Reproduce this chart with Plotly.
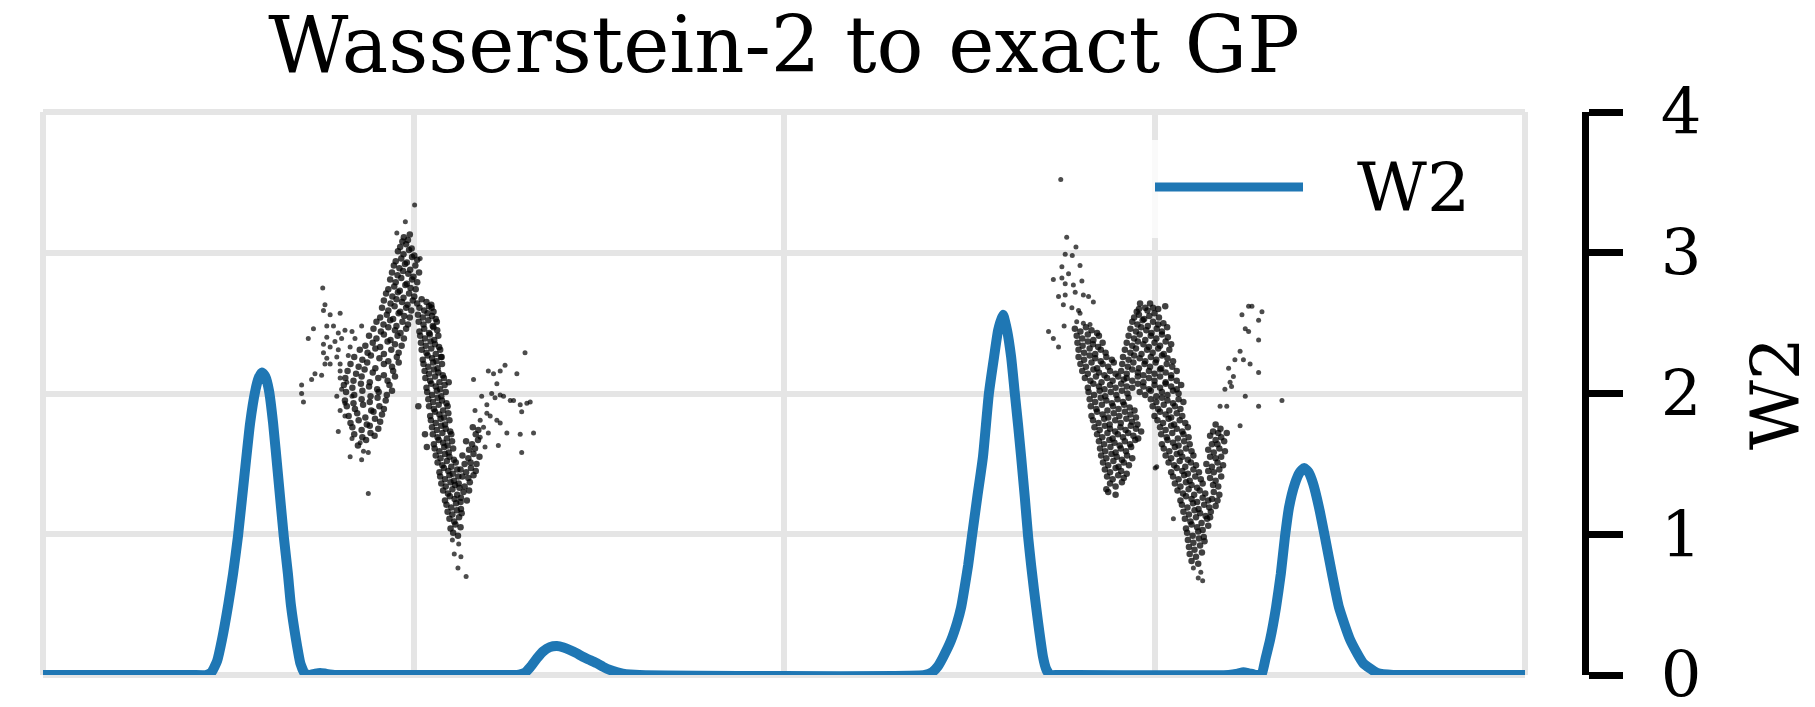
import plotly.graph_objects as go

# ---------------- W2 curve (right axis) ----------------
w2_x = [-2.00, -1.60, -1.56, -1.545, -1.53, -1.517, -1.50, -1.487, -1.474, -1.457, -1.441,
        -1.427, -1.418, -1.409, -1.40, -1.39, -1.379, -1.366, -1.35, -1.339, -1.331, -1.317,
        -1.305, -1.293, -1.28, -1.265, -1.252, -1.235, -1.21, -1.18,
        -0.73, -0.715, -0.70, -0.685, -0.667, -0.65, -0.632, -0.613, -0.595, -0.578, -0.56,
        -0.543, -0.524, -0.505, -0.488, -0.47, -0.452, -0.435, -0.415, -0.39,
        0.38, 0.40, 0.415, 0.43, 0.45, 0.467, 0.478, 0.486, 0.497, 0.507, 0.522, 0.537, 0.553,
        0.567, 0.578, 0.591, 0.602, 0.613, 0.623, 0.632, 0.640, 0.650, 0.659, 0.667, 0.675,
        0.686, 0.699, 0.708, 0.718, 0.74,
        1.20, 1.225, 1.24, 1.255, 1.27, 1.285, 1.29, 1.30, 1.312, 1.328, 1.341, 1.352, 1.363,
        1.379, 1.392, 1.404, 1.416, 1.428, 1.444, 1.460, 1.479, 1.498, 1.528, 1.563, 1.601,
        1.644, 1.70, 2.00]
w2_y = [0.0, 0.0, 0.0, 0.02, 0.10, 0.25, 0.50, 0.72, 0.98, 1.40, 1.79,
        2.02, 2.11, 2.15, 2.12, 2.02, 1.79, 1.43, 0.98, 0.72, 0.50, 0.25,
        0.08, 0.01, 0.0, 0.01, 0.015, 0.008, 0.0, 0.0,
        0.0, 0.003, 0.015, 0.055, 0.118, 0.168, 0.198, 0.206, 0.196, 0.178, 0.155,
        0.13, 0.106, 0.083, 0.058, 0.036, 0.020, 0.010, 0.004, 0.0,
        0.0, 0.02, 0.06, 0.13, 0.24, 0.37, 0.48, 0.60, 0.78, 0.98, 1.27, 1.55, 2.0,
        2.26, 2.45, 2.56, 2.45, 2.26, 2.0, 1.77, 1.55, 1.26, 0.98, 0.78, 0.60,
        0.37, 0.13, 0.04, 0.0, 0.0,
        0.0, 0.01, 0.02, 0.012, 0.003, 0.0, 0.01, 0.12, 0.25, 0.48, 0.72, 0.98, 1.19,
        1.36, 1.44, 1.47, 1.44, 1.36, 1.19, 0.98, 0.72, 0.48, 0.25, 0.085, 0.015,
        0.0, 0.0, 0.0]

# ---------------- scattered observations (left hidden axis) ----------------
left_sparse = [
    (-1.245, 2.75), (-1.239, 2.63), (-1.243, 2.59), (-1.225, 2.56), (-1.198, 2.57), (-1.270, 2.46),
    (-1.284, 2.39), (-1.234, 2.48), (-1.216, 2.48), (-1.203, 2.43), (-1.185, 2.45), (-1.166, 2.44),
    (-1.234, 2.40), (-1.212, 2.37), (-1.194, 2.39), (-1.243, 2.35), (-1.225, 2.33), (-1.203, 2.31),
    (-1.171, 2.33), (-1.158, 2.39), (-1.140, 2.48), (-1.243, 2.29), (-1.234, 2.25), (-1.207, 2.26),
    (-1.176, 2.27), (-1.239, 2.21), (-1.225, 2.21), (-1.198, 2.21), (-1.248, 2.13), (-1.266, 2.14),
    (-1.275, 2.10), (-1.302, 2.06), (-1.302, 2.00), (-1.297, 1.94), (-1.198, 2.16), (-1.198, 2.11),
    (-1.180, 2.08), (-1.194, 2.03), (-1.207, 1.98), (-1.185, 1.93), (-1.166, 1.98), (-1.198, 1.88),
    (-1.185, 1.84), (-1.203, 1.73), (-1.166, 1.68), (-1.144, 1.65), (-1.171, 1.55), (-1.135, 1.59),
    (-1.122, 1.58), (-1.140, 1.53), (-1.122, 1.29),
    (-0.997, 3.34), (-1.022, 3.22), (-1.045, 3.14), (-0.982, 2.96),
    (-0.895, 0.96), (-0.878, 0.93), (-0.890, 0.86), (-0.872, 0.84), (-0.880, 0.76), (-0.858, 0.70),
    (-0.838, 2.10), (-0.816, 1.98), (-0.798, 2.16), (-0.784, 2.14), (-0.766, 2.16), (-0.775, 2.07),
    (-0.753, 2.20), (-0.721, 2.14), (-0.699, 2.29), (-0.834, 1.88), (-0.802, 1.92), (-0.789, 2.00),
    (-0.780, 1.97), (-0.766, 1.99), (-0.757, 1.98), (-0.739, 1.95), (-0.730, 1.95), (-0.712, 1.92),
    (-0.694, 1.93), (-0.685, 1.94), (-0.708, 1.87), (-0.802, 1.86), (-0.793, 1.84), (-0.775, 1.81),
    (-0.766, 1.79), (-0.748, 1.72), (-0.712, 1.71), (-0.676, 1.72), (-0.771, 1.63), (-0.708, 1.58),
    (-0.820, 1.81), (-0.811, 1.76), (-0.798, 1.72), (-0.820, 1.69), (-0.807, 1.62),
]

left_core = [
    # rising band and lower-left lobe
    (-1.150, 1.63), (-1.128, 1.67), (-1.105, 1.70),
    (-1.165, 1.76), (-1.140, 1.74), (-1.118, 1.77), (-1.095, 1.75),
    (-1.175, 1.84), (-1.152, 1.86), (-1.130, 1.83), (-1.108, 1.87), (-1.085, 1.85),
    (-1.185, 1.95), (-1.162, 1.93), (-1.140, 1.96), (-1.118, 1.94), (-1.097, 1.97), (-1.075, 1.95),
    (-1.188, 2.06), (-1.165, 2.04), (-1.142, 2.07), (-1.120, 2.05), (-1.098, 2.03), (-1.065, 2.06),
    (-1.178, 2.16), (-1.155, 2.14), (-1.132, 2.17), (-1.110, 2.15), (-1.080, 2.13), (-1.055, 2.16),
    (-1.160, 2.26), (-1.138, 2.24), (-1.115, 2.27), (-1.092, 2.25), (-1.068, 2.23), (-1.045, 2.26),
    (-1.130, 2.34), (-1.110, 2.36), (-1.090, 2.33), (-1.070, 2.37), (-1.050, 2.35), (-1.032, 2.34),
    (-1.108, 2.46), (-1.088, 2.44), (-1.068, 2.47), (-1.050, 2.45), (-1.035, 2.43), (-1.020, 2.46),
    (-1.090, 2.54), (-1.072, 2.56), (-1.055, 2.53), (-1.040, 2.57), (-1.025, 2.55), (-1.010, 2.54),
    (-1.080, 2.66), (-1.062, 2.64), (-1.046, 2.67), (-1.031, 2.65), (-1.016, 2.63), (-1.002, 2.66),
    (-1.068, 2.74), (-1.052, 2.76), (-1.037, 2.73), (-1.022, 2.77), (-1.008, 2.75), (-0.994, 2.74),
    (-1.058, 2.86), (-1.043, 2.84), (-1.028, 2.87), (-1.014, 2.85), (-1.000, 2.83), (-0.985, 2.86),
    (-1.048, 2.94), (-1.033, 2.96), (-1.018, 2.93), (-1.004, 2.97), (-0.990, 2.95),
    (-1.036, 3.04), (-1.020, 3.06), (-1.005, 3.03), (-1.026, 3.11), (-1.010, 3.13),
    (-1.160, 1.71), (-1.138, 1.69), (-1.116, 1.72),
    (-1.170, 1.79), (-1.148, 1.81), (-1.126, 1.78), (-1.104, 1.82), (-1.090, 1.80),
    (-1.180, 1.91), (-1.158, 1.89), (-1.136, 1.92), (-1.114, 1.88), (-1.092, 1.91), (-1.080, 1.89),
    (-1.182, 2.01), (-1.160, 1.99), (-1.138, 2.02), (-1.116, 1.98), (-1.094, 2.01), (-1.072, 1.99),
    (-1.058, 2.02),
    (-1.184, 2.11), (-1.162, 2.09), (-1.140, 2.12), (-1.118, 2.08), (-1.095, 2.11), (-1.070, 2.09),
    (-1.050, 2.12),
    (-1.170, 2.21), (-1.148, 2.19), (-1.125, 2.22), (-1.103, 2.18), (-1.080, 2.21), (-1.058, 2.19),
    (-1.040, 2.22),
    (-1.145, 2.31), (-1.124, 2.29), (-1.103, 2.32), (-1.080, 2.28), (-1.060, 2.31), (-1.040, 2.29),
    (-1.120, 2.41), (-1.100, 2.39), (-1.080, 2.42), (-1.062, 2.38), (-1.043, 2.41), (-1.026, 2.39),
    (-1.100, 2.51), (-1.081, 2.49), (-1.063, 2.52), (-1.046, 2.48), (-1.030, 2.51), (-1.015, 2.49),
    (-1.085, 2.61), (-1.068, 2.59), (-1.051, 2.62), (-1.036, 2.58), (-1.020, 2.61), (-1.006, 2.59),
    (-1.074, 2.71), (-1.057, 2.69), (-1.042, 2.72), (-1.027, 2.68), (-1.012, 2.71), (-0.998, 2.69),
    (-1.063, 2.81), (-1.048, 2.79), (-1.033, 2.82), (-1.018, 2.78), (-1.004, 2.81), (-0.990, 2.79),
    (-1.053, 2.91), (-1.038, 2.89), (-1.023, 2.92), (-1.009, 2.88), (-0.995, 2.91),
    (-1.042, 3.01), (-1.027, 2.99), (-1.012, 3.02), (-0.998, 2.98), (-1.030, 3.08), (-1.015, 3.09),
    # descending band
    (-0.990, 2.64), (-0.978, 2.67), (-0.965, 2.65), (-0.952, 2.63),
    (-0.988, 2.56), (-0.975, 2.54), (-0.962, 2.57), (-0.950, 2.55), (-0.940, 2.53),
    (-0.984, 2.44), (-0.971, 2.46), (-0.958, 2.43), (-0.946, 2.47), (-0.936, 2.45),
    (-0.980, 2.36), (-0.967, 2.34), (-0.954, 2.37), (-0.942, 2.35), (-0.931, 2.33),
    (-0.975, 2.24), (-0.962, 2.27), (-0.950, 2.25), (-0.938, 2.23), (-0.926, 2.26),
    (-0.970, 2.16), (-0.958, 2.14), (-0.945, 2.17), (-0.933, 2.15), (-0.921, 2.13),
    (-0.965, 2.04), (-0.952, 2.07), (-0.940, 2.05), (-0.928, 2.03), (-0.916, 2.06),
    (-0.960, 1.96), (-0.947, 1.94), (-0.935, 1.97), (-0.923, 1.95), (-0.911, 1.93),
    (-0.955, 1.84), (-0.942, 1.87), (-0.930, 1.85), (-0.918, 1.83), (-0.906, 1.86),
    (-0.950, 1.76), (-0.937, 1.74), (-0.925, 1.77), (-0.913, 1.75), (-0.901, 1.73),
    (-0.945, 1.64), (-0.932, 1.67), (-0.920, 1.65), (-0.908, 1.63), (-0.896, 1.66),
    (-0.940, 1.56), (-0.927, 1.54), (-0.915, 1.57), (-0.903, 1.55), (-0.891, 1.53),
    (-0.930, 1.44), (-0.918, 1.47), (-0.906, 1.45), (-0.894, 1.43), (-0.882, 1.46),
    (-0.925, 1.36), (-0.913, 1.34), (-0.900, 1.37), (-0.888, 1.35), (-0.876, 1.33),
    (-0.915, 1.24), (-0.902, 1.27), (-0.889, 1.25), (-0.873, 1.23),
    (-0.908, 1.16), (-0.895, 1.14), (-0.883, 1.17), (-0.870, 1.15),
    (-0.900, 1.04), (-0.887, 1.07), (-0.873, 1.05),
    (-0.987, 1.91), (-0.969, 1.71), (-0.964, 1.62), (-0.905, 2.08), (-0.924, 2.26), (-0.951, 2.61),
    (-0.984, 2.61), (-0.971, 2.59), (-0.958, 2.62), (-0.946, 2.58),
    (-0.986, 2.51), (-0.973, 2.49), (-0.960, 2.52), (-0.948, 2.48), (-0.937, 2.51),
    (-0.982, 2.41), (-0.969, 2.39), (-0.956, 2.42), (-0.944, 2.38), (-0.933, 2.41),
    (-0.978, 2.31), (-0.965, 2.29), (-0.952, 2.32), (-0.940, 2.28), (-0.928, 2.31),
    (-0.973, 2.21), (-0.960, 2.19), (-0.947, 2.22), (-0.935, 2.18), (-0.923, 2.21),
    (-0.968, 2.11), (-0.955, 2.09), (-0.942, 2.12), (-0.930, 2.08), (-0.918, 2.11),
    (-0.963, 2.01), (-0.950, 1.99), (-0.937, 2.02), (-0.925, 1.98), (-0.913, 2.01),
    (-0.958, 1.91), (-0.945, 1.89), (-0.932, 1.92), (-0.920, 1.88), (-0.908, 1.91),
    (-0.953, 1.81), (-0.940, 1.79), (-0.927, 1.82), (-0.915, 1.78), (-0.903, 1.81),
    (-0.948, 1.71), (-0.935, 1.69), (-0.922, 1.72), (-0.910, 1.68), (-0.898, 1.71),
    (-0.943, 1.61), (-0.930, 1.59), (-0.917, 1.62), (-0.905, 1.58), (-0.893, 1.61),
    (-0.935, 1.51), (-0.922, 1.49), (-0.910, 1.52), (-0.898, 1.48), (-0.886, 1.51),
    (-0.928, 1.41), (-0.915, 1.39), (-0.903, 1.42), (-0.891, 1.38), (-0.879, 1.41),
    (-0.920, 1.31), (-0.907, 1.29), (-0.895, 1.32), (-0.882, 1.28),
    (-0.911, 1.21), (-0.898, 1.19), (-0.885, 1.22), (-0.872, 1.18),
    (-0.903, 1.11), (-0.890, 1.09), (-0.877, 1.12), (-0.893, 1.01), (-0.880, 0.99),
    # second hump
    (-0.840, 1.76), (-0.825, 1.74), (-0.858, 1.66), (-0.842, 1.64), (-0.826, 1.67), (-0.868, 1.56),
    (-0.852, 1.54), (-0.838, 1.57), (-0.822, 1.55), (-0.873, 1.46), (-0.858, 1.44), (-0.845, 1.47),
    (-0.832, 1.45), (-0.878, 1.36), (-0.862, 1.34), (-0.848, 1.37), (-0.872, 1.26), (-0.856, 1.24),
    (-0.832, 1.71), (-0.850, 1.60), (-0.834, 1.61), (-0.862, 1.50), (-0.846, 1.51), (-0.830, 1.50),
    (-0.868, 1.41), (-0.852, 1.40), (-0.838, 1.42), (-0.865, 1.30), (-0.850, 1.31),
]

right_sparse = [
    (0.747, 3.52), (0.763, 3.11), (0.788, 3.04), (0.759, 2.99), (0.778, 2.98), (0.750, 2.90),
    (0.799, 2.91), (0.768, 2.85), (0.727, 2.81), (0.750, 2.82), (0.759, 2.78), (0.781, 2.77),
    (0.804, 2.80), (0.741, 2.69), (0.759, 2.70), (0.786, 2.72), (0.808, 2.70), (0.822, 2.69),
    (0.835, 2.65), (0.754, 2.63), (0.777, 2.61), (0.795, 2.59), (0.799, 2.57), (0.714, 2.44),
    (0.727, 2.39), (0.741, 2.33), (0.756, 2.48), (0.790, 2.51), (0.808, 2.50), (0.826, 2.49),
    (1.105, 0.76), (1.125, 0.73), (1.118, 0.69), (1.130, 0.67),
    (1.051, 1.11), (1.002, 1.47), (1.006, 1.48),
    (1.177, 1.91), (1.195, 1.91), (1.190, 2.03), (1.204, 2.08), (1.208, 2.05), (1.213, 2.12),
    (1.200, 2.18), (1.217, 2.24), (1.231, 2.30), (1.240, 2.24), (1.258, 2.21), (1.245, 2.46),
    (1.254, 2.44), (1.236, 2.56), (1.254, 2.62), (1.263, 2.62), (1.290, 2.58), (1.281, 2.52),
    (1.281, 2.38), (1.281, 2.15), (1.245, 1.98), (1.281, 1.91), (1.344, 1.95), (1.231, 1.77),
]

right_core = [
    # descending left arm
    (0.785, 2.46), (0.800, 2.44), (0.815, 2.47), (0.830, 2.45), (0.845, 2.43),
    (0.792, 2.36), (0.806, 2.34), (0.820, 2.37), (0.834, 2.35), (0.848, 2.33), (0.860, 2.36),
    (0.795, 2.26), (0.810, 2.24), (0.825, 2.27), (0.840, 2.25), (0.855, 2.23), (0.870, 2.26), (0.885, 2.24),
    (0.805, 2.16), (0.820, 2.14), (0.835, 2.17), (0.850, 2.15), (0.865, 2.13), (0.880, 2.16), (0.895, 2.14),
    (0.820, 2.04), (0.835, 2.07), (0.850, 2.05), (0.865, 2.03), (0.880, 2.06), (0.895, 2.04), (0.910, 2.07),
    (0.925, 2.05),
    (0.825, 1.96), (0.840, 1.94), (0.855, 1.97), (0.870, 1.95), (0.885, 1.93), (0.900, 1.96), (0.915, 1.94),
    (0.930, 1.97),
    (0.830, 1.84), (0.845, 1.87), (0.860, 1.85), (0.875, 1.83), (0.890, 1.86), (0.905, 1.84), (0.920, 1.87),
    (0.935, 1.85), (0.950, 1.83),
    (0.838, 1.76), (0.852, 1.74), (0.866, 1.77), (0.880, 1.75), (0.894, 1.73), (0.908, 1.76), (0.922, 1.74),
    (0.936, 1.77), (0.950, 1.75), (0.964, 1.73),
    (0.850, 1.66), (0.864, 1.64), (0.878, 1.67), (0.892, 1.65), (0.906, 1.63), (0.920, 1.66), (0.934, 1.64),
    (0.948, 1.67),
    (0.856, 1.56), (0.870, 1.54), (0.884, 1.57), (0.898, 1.55), (0.912, 1.53), (0.926, 1.56), (0.940, 1.54),
    (0.866, 1.46), (0.880, 1.44), (0.895, 1.47), (0.910, 1.45), (0.925, 1.43),
    (0.880, 1.36), (0.895, 1.34), (0.912, 1.37), (0.870, 1.32), (0.895, 1.28), (0.875, 1.30),
    (0.790, 2.41), (0.805, 2.39), (0.820, 2.42), (0.835, 2.38), (0.850, 2.41),
    (0.795, 2.31), (0.810, 2.29), (0.825, 2.32), (0.840, 2.28), (0.855, 2.31), (0.868, 2.29),
    (0.800, 2.21), (0.815, 2.19), (0.830, 2.22), (0.845, 2.18), (0.860, 2.21), (0.875, 2.19), (0.890, 2.22),
    (0.812, 2.11), (0.827, 2.09), (0.842, 2.12), (0.857, 2.08), (0.872, 2.11), (0.887, 2.09), (0.902, 2.12),
    (0.917, 2.10),
    (0.822, 2.01), (0.837, 1.99), (0.852, 2.02), (0.867, 1.98), (0.882, 2.01), (0.897, 1.99), (0.912, 2.02),
    (0.927, 2.00),
    (0.828, 1.91), (0.843, 1.89), (0.858, 1.92), (0.873, 1.88), (0.888, 1.91), (0.903, 1.89), (0.918, 1.92),
    (0.933, 1.90), (0.946, 1.88),
    (0.834, 1.81), (0.849, 1.79), (0.864, 1.82), (0.879, 1.78), (0.894, 1.81), (0.909, 1.79), (0.924, 1.82),
    (0.939, 1.80), (0.954, 1.78),
    (0.845, 1.71), (0.859, 1.69), (0.873, 1.72), (0.887, 1.68), (0.901, 1.71), (0.915, 1.69), (0.929, 1.72),
    (0.943, 1.70), (0.956, 1.68),
    (0.853, 1.61), (0.867, 1.59), (0.881, 1.62), (0.895, 1.58), (0.909, 1.61), (0.923, 1.59), (0.937, 1.62),
    (0.861, 1.51), (0.875, 1.49), (0.889, 1.52), (0.903, 1.48), (0.917, 1.51), (0.931, 1.49),
    (0.872, 1.41), (0.887, 1.39), (0.902, 1.42), (0.917, 1.40),
    # central peak
    (0.961, 2.64), (0.975, 2.61), (0.988, 2.64), (1.029, 2.62), (0.952, 2.58),
    (0.945, 2.54), (0.958, 2.56), (0.972, 2.53), (0.986, 2.55), (1.000, 2.57), (1.012, 2.54),
    (0.935, 2.46), (0.950, 2.44), (0.964, 2.47), (0.978, 2.45), (0.992, 2.43), (1.006, 2.46), (1.020, 2.44),
    (1.034, 2.47),
    (0.925, 2.36), (0.940, 2.34), (0.955, 2.37), (0.970, 2.35), (0.985, 2.33), (1.000, 2.36), (1.015, 2.34),
    (1.030, 2.37), (1.045, 2.35),
    (0.915, 2.26), (0.930, 2.24), (0.945, 2.27), (0.960, 2.25), (0.975, 2.23), (0.990, 2.26), (1.005, 2.24),
    (1.020, 2.27), (1.035, 2.25), (1.050, 2.23),
    (0.910, 2.16), (0.925, 2.14), (0.940, 2.17), (0.955, 2.15), (0.970, 2.13), (0.985, 2.16), (1.000, 2.14),
    (1.015, 2.17), (1.030, 2.15), (1.045, 2.13), (1.060, 2.16),
    (0.940, 2.04), (0.955, 2.07), (0.970, 2.05), (0.985, 2.03), (1.000, 2.06), (1.015, 2.04), (1.030, 2.07),
    (1.045, 2.05), (1.060, 2.03), (1.072, 2.06),
    (0.958, 2.60), (0.981, 2.59), (0.996, 2.61), (1.010, 2.60),
    (0.940, 2.51), (0.954, 2.49), (0.968, 2.52), (0.982, 2.48), (0.996, 2.51), (1.010, 2.49), (1.024, 2.50),
    (0.930, 2.41), (0.945, 2.39), (0.960, 2.42), (0.975, 2.38), (0.990, 2.41), (1.005, 2.39), (1.020, 2.42),
    (1.036, 2.40),
    (0.920, 2.31), (0.935, 2.29), (0.950, 2.32), (0.965, 2.28), (0.980, 2.31), (0.995, 2.29), (1.010, 2.32),
    (1.025, 2.28), (1.040, 2.31),
    (0.913, 2.21), (0.928, 2.19), (0.943, 2.22), (0.958, 2.18), (0.973, 2.21), (0.988, 2.19), (1.003, 2.22),
    (1.018, 2.18), (1.033, 2.21), (1.048, 2.19),
    (0.925, 2.11), (0.940, 2.09), (0.955, 2.12), (0.970, 2.08), (0.985, 2.11), (1.000, 2.09), (1.015, 2.12),
    (1.030, 2.08), (1.045, 2.11), (1.060, 2.09),
    (0.960, 2.01), (0.975, 1.99), (0.990, 2.02), (1.005, 1.98), (1.020, 2.01), (1.035, 1.99), (1.050, 2.02),
    (1.065, 2.00),
    # descending right band
    (0.990, 1.96), (1.005, 1.94), (1.020, 1.97), (1.035, 1.95), (1.050, 1.93), (1.065, 1.96), (1.078, 1.94),
    (1.000, 1.84), (1.015, 1.87), (1.030, 1.85), (1.045, 1.83), (1.060, 1.86), (1.075, 1.84),
    (1.015, 1.76), (1.030, 1.74), (1.045, 1.77), (1.060, 1.75), (1.075, 1.73), (1.090, 1.76),
    (1.020, 1.64), (1.035, 1.67), (1.050, 1.65), (1.065, 1.63), (1.080, 1.66), (1.095, 1.64),
    (1.030, 1.56), (1.045, 1.54), (1.060, 1.57), (1.075, 1.55), (1.090, 1.53), (1.105, 1.56),
    (1.045, 1.44), (1.060, 1.47), (1.075, 1.45), (1.090, 1.43), (1.105, 1.46), (1.120, 1.44),
    (1.055, 1.36), (1.070, 1.34), (1.085, 1.37), (1.100, 1.35), (1.115, 1.33), (1.130, 1.36),
    (1.070, 1.24), (1.085, 1.27), (1.100, 1.25), (1.115, 1.23), (1.130, 1.26), (1.145, 1.24),
    (1.078, 1.16), (1.093, 1.14), (1.108, 1.17), (1.123, 1.15), (1.138, 1.13), (1.152, 1.16),
    (1.085, 1.04), (1.100, 1.07), (1.115, 1.05), (1.130, 1.03), (1.145, 1.06),
    (1.090, 0.96), (1.105, 0.94), (1.120, 0.97), (1.135, 0.95),
    (1.095, 0.86), (1.112, 0.84), (1.128, 0.87),
    (0.995, 1.91), (1.010, 1.89), (1.025, 1.92), (1.040, 1.88), (1.055, 1.91), (1.070, 1.89),
    (1.008, 1.81), (1.023, 1.79), (1.038, 1.82), (1.053, 1.78), (1.068, 1.81), (1.083, 1.79),
    (1.018, 1.71), (1.033, 1.69), (1.048, 1.72), (1.063, 1.68), (1.078, 1.71), (1.092, 1.69),
    (1.025, 1.61), (1.040, 1.59), (1.055, 1.62), (1.070, 1.58), (1.085, 1.61), (1.100, 1.59),
    (1.038, 1.51), (1.053, 1.49), (1.068, 1.52), (1.083, 1.48), (1.098, 1.51), (1.112, 1.49),
    (1.050, 1.41), (1.065, 1.39), (1.080, 1.42), (1.095, 1.38), (1.110, 1.41), (1.125, 1.39),
    (1.062, 1.31), (1.077, 1.29), (1.092, 1.32), (1.107, 1.28), (1.122, 1.31), (1.137, 1.29),
    (1.074, 1.21), (1.089, 1.19), (1.104, 1.22), (1.119, 1.18), (1.134, 1.21), (1.148, 1.19),
    (1.082, 1.11), (1.097, 1.09), (1.112, 1.12), (1.127, 1.08), (1.142, 1.11),
    (1.088, 1.01), (1.103, 0.99), (1.118, 1.02), (1.133, 0.98),
    (1.093, 0.91), (1.108, 0.89), (1.123, 0.92), (1.100, 0.81), (1.118, 0.79),
    # second hump
    (1.165, 1.78), (1.178, 1.75), (1.150, 1.70), (1.165, 1.67), (1.180, 1.69), (1.195, 1.72),
    (1.145, 1.60), (1.160, 1.58), (1.175, 1.61), (1.190, 1.59), (1.140, 1.50), (1.155, 1.48),
    (1.170, 1.51), (1.185, 1.49), (1.150, 1.40), (1.165, 1.38), (1.180, 1.41), (1.160, 1.30),
    (1.175, 1.28), (1.165, 1.20), (1.150, 1.12),
    (1.158, 1.73), (1.172, 1.72), (1.188, 1.66), (1.155, 1.64), (1.170, 1.64), (1.150, 1.55),
    (1.165, 1.54), (1.180, 1.55), (1.145, 1.45), (1.160, 1.44), (1.175, 1.46), (1.158, 1.35),
    (1.172, 1.34), (1.155, 1.25), (1.170, 1.24),
]

# tick values
x_grid = [-2, -1, 0, 1, 2]
y_grid = [0, 1, 2, 3, 4]
w2_ticks = [0, 1, 2, 3, 4]

SERIF = "DejaVu Serif"

fig = go.Figure()
for cl, sz, op in ((left_sparse, 5, 0.7), (right_sparse, 5, 0.7),
                   (left_core, 6.5, 0.75), (right_core, 6.5, 0.75)):
    fig.add_trace(go.Scatter(
        x=[p[0] for p in cl], y=[p[1] for p in cl], mode="markers",
        marker=dict(size=sz, color="black", opacity=op, line=dict(width=0)),
        showlegend=False, hoverinfo="skip"))

fig.add_trace(go.Scatter(
    x=w2_x, y=w2_y, yaxis="y2", mode="lines", name="W2",
    line=dict(color="#1f77b4", width=10, shape="spline", smoothing=0.5),
    showlegend=False))

L, R, T, B = 43, 200, 112, 32
W, H = 1815, 707
pw = W - L - R
ph = H - T - B
def px(xp):
    return (xp - L) / pw
def py(yp):
    return (H - B - yp) / ph

GRIDC = "#e5e5e5"
grid = dict(showgrid=True, gridcolor=GRIDC, gridwidth=6, zeroline=False,
            showline=False, ticks="", showticklabels=False, automargin=False)

x_end = px(1525)
fig.update_layout(
    width=W, height=H,
    margin=dict(l=L, r=R, t=T, b=B, pad=0, autoexpand=False),
    plot_bgcolor="white", paper_bgcolor="white",
    showlegend=False,
    title=dict(text="Wasserstein-2 to exact GP", font=dict(family=SERIF, size=78, color="black"),
               xref="paper", x=px(784), xanchor="center",
               yref="container", y=1 - 45 / H, yanchor="middle"),
    xaxis=dict(domain=[0, x_end], range=[-2, 2], tickvals=x_grid, **grid),
    yaxis=dict(range=[0, 4], tickvals=y_grid, **grid),
    yaxis2=dict(overlaying="y", anchor="free", position=px(1585), side="right",
                range=[0, 4], tickvals=w2_ticks, showgrid=False, zeroline=False,
                showline=True, linecolor="black", linewidth=7, automargin=False,
                ticks="outside", ticklen=34, tickwidth=7, tickcolor="black",
                ticklabelstandoff=25, ticklabeloverflow="allow",
                tickfont=dict(family=SERIF, size=64, color="black"),
                title=dict(text="W2", font=dict(family=SERIF, size=68, color="black"), standoff=62)),
)

# grid lines on the frame edges (plotly skips gridlines at the range ends)
for (x0, x1, y0, y1) in ((0, 0, 0, 1), (x_end, x_end, 0, 1), (0, x_end, 1, 1), (0, x_end, 0, 0)):
    fig.add_shape(type="line", xref="paper", yref="paper", x0=x0, x1=x1, y0=y0, y1=y1,
                  line=dict(color=GRIDC, width=6), layer="below")

# legend drawn as a translucent box with a line sample and label
fig.add_shape(type="rect", xref="paper", yref="paper",
              x0=px(1140), x1=px(1490), y0=py(238), y1=py(140),
              fillcolor="rgba(255,255,255,0.8)", line=dict(width=0), layer="above")
fig.add_shape(type="line", xref="paper", yref="paper",
              x0=px(1155), x1=px(1303), y0=py(187), y1=py(187),
              line=dict(color="#1f77b4", width=9), layer="above")
fig.add_annotation(text="W2", xref="paper", yref="paper", x=px(1355), y=py(187),
                   xanchor="left", yanchor="middle", showarrow=False,
                   font=dict(family=SERIF, size=68, color="black"))

fig.write_html("out.html")
